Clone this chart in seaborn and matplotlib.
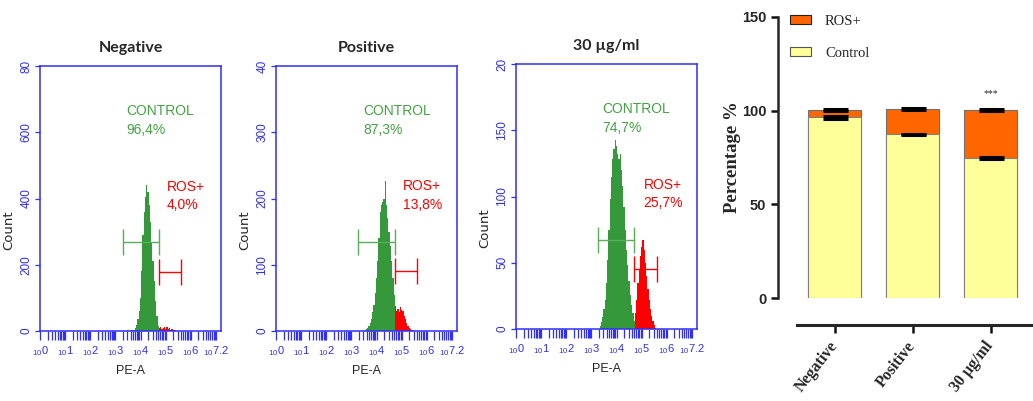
import numpy as np
import pandas as pd
import matplotlib
matplotlib.use('Agg')
import matplotlib.pyplot as plt
import seaborn as sns
from matplotlib.patches import Patch

sns.set_style('ticks')
plt.rcParams['font.family'] = ['Liberation Sans', 'DejaVu Sans']
plt.rcParams['mathtext.fontset'] = 'custom'
plt.rcParams['mathtext.rm'] = 'Liberation Sans'

# ===== data: flow cytometry histograms (log10 PE-A, bin width 0.05) =====
panel_titles = ['Negative', 'Positive', '30 µg/ml']
y_max = [800, 400, 200]
y_tick_labels = [['0', '200', '400', '600', '80'],
                 ['0', '100', '200', '300', '40'],
                 ['0', '50', '100', '150', '20']]
x_tick_labels = ['0', '1', '2', '3', '4', '5', '6', '7.2']

# first bin centre of each population, counts per bin
neg_green_start = 3.50
neg_green = [3, 0, 0, 2, 4, 3, 8, 18, 35, 60, 100, 180, 290, 360, 405, 440,
             420, 380, 330, 270, 210, 150, 90, 45, 15]
neg_red_start = 4.75
neg_red = [9, 11, 6, 10, 13, 7, 11, 5, 9, 4, 6, 3, 2, 3, 1, 1]

pos_green_start = 3.55
pos_green = [2, 3, 5, 8, 12, 18, 28, 40, 58, 80, 105, 140, 180, 190, 195,
             200, 226, 190, 170, 150, 128, 105, 80, 55]
pos_red_start = 4.75
pos_red = [38, 30, 33, 28, 36, 32, 30, 22, 18, 12, 8, 5, 3, 2, 1]

c30_green_start = 3.35
c30_green = [2, 5, 9, 15, 22, 35, 52, 75, 98, 115, 128, 136, 143, 138, 132,
             128, 132, 120, 108, 92, 75, 60, 48, 36, 26, 18, 12, 6]
c30_red_start = 4.75
c30_red = [12, 22, 35, 45, 55, 62, 67, 60, 50, 40, 30, 22, 15, 10, 6, 3, 1]

# gates: (left, right, height)
green_gates = [(3.29, 4.73, 268), (3.27, 4.72, 135), (3.28, 4.71, 67)]
red_gates = [(4.73, 5.62, 179), (4.72, 5.62, 90), (4.71, 5.62, 45)]
control_pct = ['96,4%', '87,3%', '74,7%']
ros_pct = ['4,0%', '13,8%', '25,7%']
control_txt_pos = [(3.45, 684), (3.47, 342), (3.45, 171)]
ros_txt_pos = [(5.04, 457), (5.05, 229), (5.07, 114)]

# ===== data: stacked bar chart =====
groups = ['Negative', 'Positive', '30 µg/ml']
control_mean = [96.4, 87.3, 74.7]
ros_mean = [4.0, 13.8, 25.7]
control_sd = [0.6, 0.5, 0.6]
ros_sd = [0.5, 0.5, 0.5]

BLUE = '#2f2ff5'
GREEN = '#35983a'
GATE_GREEN = '#5aad5a'
TXT_GREEN = '#43a343'
RED = '#ff0000'

fig = plt.figure(figsize=(10.33, 4.01), dpi=100)
W, H = 1033, 401

hist_boxes = [(40, 66, 221, 331), (276, 66, 457, 331), (516, 64, 697, 329)]
hist_data = [(neg_green_start, neg_green, neg_red_start, neg_red),
             (pos_green_start, pos_green, pos_red_start, pos_red),
             (c30_green_start, c30_green, c30_red_start, c30_red)]

major_x = [0, 1, 2, 3, 4, 5, 6, 7]
major_lab = [r'$_{10}$' + s for s in x_tick_labels]
minor_x = [n + np.log10(k) for n in range(8) for k in range(2, 10) if n + np.log10(k) < 7.2]

for i, (x0, y0, x1, y1) in enumerate(hist_boxes):
    ax = fig.add_axes([x0 / W, 1 - y1 / H, (x1 - x0) / W, (y1 - y0) / H])
    gs, gn, rs, rn = hist_data[i]
    for start, counts, col in [(gs, gn, GREEN), (rs, rn, RED)]:
        df = pd.DataFrame({'pe': start + 0.05 * np.arange(len(counts)), 'n': counts})
        sns.histplot(data=df, x='pe', weights='n', binwidth=0.05,
                     binrange=(df['pe'].iloc[0] - 0.025, df['pe'].iloc[-1] + 0.025),
                     element='step', fill=True, color=col, alpha=1, linewidth=0, ax=ax)
    # gates
    for (l, r, h), col in [(green_gates[i], GATE_GREEN), (red_gates[i], RED)]:
        ax.errorbar([(l + r) / 2], [h], xerr=[(r - l) / 2], fmt='none',
                    ecolor=col, elinewidth=1.0, capsize=9.5, capthick=1.0)
    cx, cy = control_txt_pos[i]
    ax.text(cx, cy, 'CONTROL\n' + control_pct[i], color=TXT_GREEN, fontsize=10,
            va='top', ha='left', linespacing=1.4)
    rx, ry = ros_txt_pos[i]
    ax.text(rx, ry, 'ROS+\n' + ros_pct[i], color=RED, fontsize=10,
            va='top', ha='left', linespacing=1.4)

    ax.set_xlim(0, 7.2)
    ax.set_ylim(0, y_max[i])
    ax.set_yticks(np.linspace(0, y_max[i], 5))
    ax.set_yticklabels(y_tick_labels[i], rotation=90, va='center', color=BLUE, fontsize=8.5)
    ax.set_xticks(major_x)
    ax.set_xticklabels(major_lab, color=BLUE, fontsize=8)
    ax.set_xticks(minor_x, minor=True)
    ax.tick_params(axis='x', which='both', direction='out', length=6.5, width=0.9,
                   color=BLUE, pad=3)
    ax.tick_params(axis='y', direction='out', length=3.5, width=0.9, color=BLUE, pad=2)
    for sp in ax.spines.values():
        sp.set_visible(True)
        sp.set_color(BLUE)
        sp.set_linewidth(1.1)
    ax.set_title(panel_titles[i], fontsize=11.5, fontweight='bold', pad=10,
                 family=['Lato', 'DejaVu Sans'])
    ax.set_ylabel('Count', fontsize=9.5, family=['DejaVu Sans'])
    ax.yaxis.set_label_coords(-0.135, 0.38)
    ax.set_xlabel('PE-A', fontsize=9)
    ax.xaxis.set_label_coords(0.5, -0.13)

# ===== stacked bar chart =====
bx0, by0, bx1, by1 = 778, 17, 1032, 298
bax = fig.add_axes([bx0 / W, 1 - by1 / H, (bx1 - bx0) / W, (by1 - by0) / H])
pos = np.arange(len(groups))
totals = [c + r for c, r in zip(control_mean, ros_mean)]
sns.barplot(x=pos, y=totals, color='#ff6600', width=0.68, edgecolor='#707070',
            linewidth=0.8, ax=bax, saturation=1)
sns.barplot(x=pos, y=control_mean, color='#ffff99', width=0.68, edgecolor='#808080',
            linewidth=0.8, ax=bax, saturation=1)
bax.errorbar(pos, control_mean, yerr=control_sd, fmt='none', ecolor='black',
             elinewidth=2, capsize=9, capthick=2.2)
bax.errorbar(pos, totals, yerr=ros_sd, fmt='none', ecolor='black',
             elinewidth=2, capsize=9, capthick=2.2)
bax.text(2, 109, '***', ha='center', va='center', fontsize=7, family=['Liberation Serif'])

bax.set_xlim(-0.73, 2.53)
bax.set_ylim(0, 150)
sns.despine(ax=bax)
bax.tick_params(axis='both', direction='out', width=1.8, length=5, color='#111111')
bax.tick_params(axis='x', length=6, pad=7)
bax.spines['left'].set_linewidth(1.8)
bax.spines['bottom'].set_linewidth(2.2)
bax.spines['bottom'].set_position(('outward', 19.5))
bax.spines['bottom'].set_bounds(-0.49, 2.53)
bax.set_yticks([0, 50, 100, 150])
bax.set_yticklabels(['0', '50', '100', '150'], fontsize=10.5, fontweight='bold',
                    family=['Liberation Sans Narrow', 'Liberation Sans'])
bax.set_xticks(pos)
bax.set_xticklabels(groups, rotation=52, ha='right', va='center', rotation_mode='anchor',
                    fontsize=11.5, fontweight='bold', family=['Liberation Serif'])
bax.set_xlabel('')
bax.set_ylabel('Percentage %', fontsize=13.5, fontweight='bold', family=['Liberation Serif'])
bax.yaxis.set_label_coords(-0.145, 0.5)

handles = [Patch(facecolor='#ff6600', edgecolor='#222222', linewidth=0.8),
           Patch(facecolor='#ffff99', edgecolor='#555555', linewidth=0.8)]
bax.legend(handles, ['ROS+', 'Control'], loc='upper left',
           bbox_to_anchor=(790 / W, 1 - 15 / H), bbox_transform=fig.transFigure,
           frameon=False, borderpad=0, borderaxespad=0, handlelength=1.45,
           handleheight=0.6, handletextpad=0.95, labelspacing=1.3,
           prop={'family': 'Liberation Serif', 'size': 10.5})

fig.savefig('out.png', dpi=100)
